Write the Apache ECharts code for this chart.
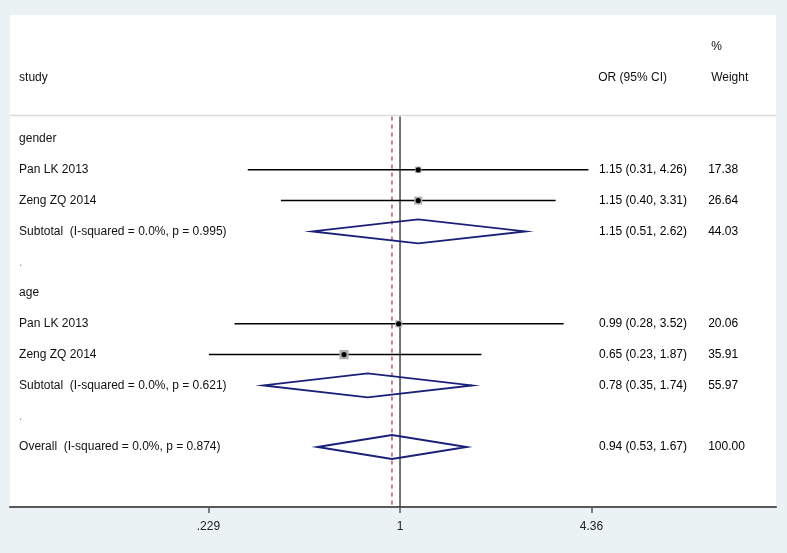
<!DOCTYPE html>
<html><head><meta charset="utf-8">
<script src="https://cdn.jsdelivr.net/npm/echarts@6/dist/echarts.min.js"></script>
<style>html,body{margin:0;padding:0;background:#eaf2f3}#c{width:787px;height:553px}</style>
</head><body><div id="c"></div>
<script>
// ---- data ----
const rowLabels = ['gender','Pan LK 2013','Zeng ZQ 2014','Subtotal  (I-squared = 0.0%, p = 0.995)','.','age','Pan LK 2013','Zeng ZQ 2014','Subtotal  (I-squared = 0.0%, p = 0.621)','.','Overall  (I-squared = 0.0%, p = 0.874)'];
const rowKinds = ['group','study','study','pooled','blank','group','study','study','pooled','blank','pooled'];
const orEst  = [null,1.15,1.15,1.15,null,null,0.99,0.65,0.78,null,0.94];
const ciLow  = [null,0.31,0.40,0.51,null,null,0.28,0.23,0.35,null,0.53];
const ciHigh = [null,4.26,3.31,2.62,null,null,3.52,1.87,1.74,null,1.67];
const weights = [null,17.38,26.64,44.03,null,null,20.06,35.91,55.97,null,100.00];
const overallOR = 0.94;
const nullValue = 1;
const tickValues = [0.229, 1, 4.36];
const tickLabels = ['.229','1','4.36'];
const headerStudy = 'study';
const headerOR = 'OR (95% CI)';
const headerPct = '%';
const headerWeight = 'Weight';

// ---- layout (ln-scale x, row-index y) ----
const X_MIN = -3.0, X_MAX = 2.892;
const Y_MIN = -4.026, Y_MAX = 11.948;
const colStudy = -2.93, colOR = 1.53, colW = 2.37, colWHead = 2.393;
const sepRow = -0.76;
const FONT = '12px "Liberation Sans", Arial, sans-serif';
const TXT = '#111';

const ln = Math.log;
const texts = [];
texts.push({x: colWHead, r: -3, t: headerPct, c: TXT});
texts.push({x: colStudy, r: -2, t: headerStudy, c: TXT});
texts.push({x: colOR - 0.005, r: -2, t: headerOR, c: TXT});
texts.push({x: colWHead, r: -2, t: headerWeight, c: TXT});
rowLabels.forEach((lab, i) => {
  texts.push({x: colStudy, r: i, t: lab, c: rowKinds[i] === 'blank' ? '#999' : TXT});
  if (orEst[i] != null) {
    texts.push({x: colOR, r: i, t: orEst[i].toFixed(2) + ' (' + ciLow[i].toFixed(2) + ', ' + ciHigh[i].toFixed(2) + ')', c: '#000'});
    texts.push({x: colW, r: i, t: weights[i].toFixed(2), c: '#000'});
  }
});

const studyIdx = rowKinds.map((k, i) => k === 'study' ? i : -1).filter(i => i >= 0);
const pooledIdx = rowKinds.map((k, i) => k === 'pooled' ? i : -1).filter(i => i >= 0);

const chart = echarts.init(document.getElementById('c'));
chart.setOption({
  backgroundColor: '#eaf2f3',
  animation: false,
  grid: {left: 10, right: 11, top: 15, bottom: 46, show: true, backgroundColor: '#fff', borderWidth: 0},
  xAxis: {
    type: 'value', min: X_MIN, max: X_MAX,
    axisLine: {onZero: false, lineStyle: {color: '#5a5a5a', width: 2}},
    axisTick: {show: true, customValues: tickValues.map(v => ln(v)), length: 6, lineStyle: {color: '#5a5a5a', width: 1.5}},
    axisLabel: {
      customValues: tickValues.map(v => ln(v)), margin: 14, color: '#222', fontSize: 12,
      fontFamily: '"Liberation Sans", Arial, sans-serif',
      formatter: v => { const k = tickValues.findIndex(t => Math.abs(ln(t) - v) < 1e-6); return k >= 0 ? tickLabels[k] : ''; }
    },
    splitLine: {show: false}
  },
  yAxis: {type: 'value', min: Y_MIN, max: Y_MAX, inverse: true, show: false},
  series: [
    { // separator under header
      type: 'custom', coordinateSystem: 'cartesian2d', data: [[X_MIN, sepRow]], silent: true, z: 1,
      renderItem: (p, api) => {
        const a = api.coord([X_MIN, sepRow]), b = api.coord([X_MAX, sepRow]);
        return {type: 'line', shape: {x1: a[0], y1: a[1], x2: b[0], y2: b[1]}, style: {stroke: '#dadada', lineWidth: 1.5}};
      }
    },
    { // reference lines: null (solid) and overall (dashed)
      type: 'custom', coordinateSystem: 'cartesian2d', silent: true, z: 2,
      data: [[ln(nullValue), 0], [ln(overallOR), 1]],
      renderItem: (p, api) => {
        const x = api.value(0), dashed = api.value(1) === 1;
        const a = api.coord([x, sepRow]), b = api.coord([x, Y_MAX]);
        return {type: 'line', shape: {x1: a[0], y1: a[1] + 1, x2: b[0], y2: b[1]},
          style: dashed ? {stroke: '#a8283f', lineWidth: 1.2, lineDash: [4, 4]} : {stroke: '#3a3a3a', lineWidth: 1.4}};
      }
    },
    { // study CIs + weight boxes
      type: 'custom', coordinateSystem: 'cartesian2d', silent: true, z: 3,
      data: studyIdx.map(i => [ln(orEst[i]), i, ln(ciLow[i]), ln(ciHigh[i]), weights[i]]),
      renderItem: (p, api) => {
        const r = api.value(1);
        const c = api.coord([api.value(0), r]);
        const lo = api.coord([api.value(2), r]), hi = api.coord([api.value(3), r]);
        const s = 1.55 * Math.sqrt(api.value(4));
        return {type: 'group', children: [
          {type: 'line', shape: {x1: lo[0], y1: lo[1], x2: hi[0], y2: hi[1]}, style: {stroke: '#000', lineWidth: 1.5}},
          {type: 'rect', shape: {x: c[0] - s / 2, y: c[1] - s / 2, width: s, height: s}, style: {fill: '#b0b0b0'}},
          {type: 'circle', shape: {cx: c[0], cy: c[1], r: 2.6}, style: {fill: '#000'}}
        ]};
      }
    },
    { // pooled diamonds
      type: 'custom', coordinateSystem: 'cartesian2d', silent: true, z: 4,
      data: pooledIdx.map(i => [ln(orEst[i]), i, ln(ciLow[i]), ln(ciHigh[i])]),
      renderItem: (p, api) => {
        const r = api.value(1);
        const c = api.coord([api.value(0), r]);
        const lo = api.coord([api.value(2), r]), hi = api.coord([api.value(3), r]);
        const h = 12;
        return {type: 'polygon', shape: {points: [[lo[0], lo[1]], [c[0], c[1] - h], [hi[0], hi[1]], [c[0], c[1] + h]]},
          style: {fill: 'none', stroke: '#1a2078', lineWidth: 1.9}};
      }
    },
    { // text columns
      type: 'custom', coordinateSystem: 'cartesian2d', silent: true, z: 5,
      data: texts.map(t => [t.x, t.r]),
      renderItem: (p, api) => {
        const t = texts[p.dataIndex];
        const c = api.coord([api.value(0), api.value(1)]);
        return {type: 'text', x: c[0], y: c[1], style: {text: t.t, fill: t.c, font: FONT, align: 'left', verticalAlign: 'middle'}};
      }
    }
  ]
});
</script></body></html>
